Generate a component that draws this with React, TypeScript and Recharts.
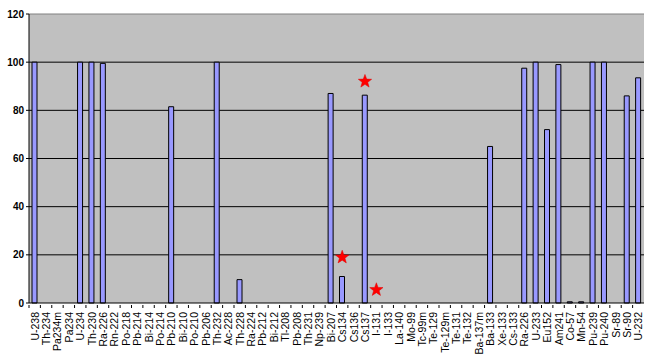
import React from 'react';
import { ComposedChart, Bar, Scatter, XAxis, YAxis, CartesianGrid, ReferenceLine } from 'recharts';

const categories = ['U-238','Th-234','Pa234m','Pa234','U-234','Th-230','Ra-226','Rn-222','Po-218','Pb-214','Bi-214','Po-214','Pb-210','Bi-210','Po-210','Pb-206','Th-232','Ac-228','Th-228','Ra-224','Pb-212','Bi-212','Tl-208','Pb-208','Th-231','Np-239','Bi-207','Cs134','Cs136','Cs137','I-131','I-133','La-140','Mo-99','Tc-99m','Te-129','Te-129m','Te-131','Te-132','Ba-137m','Ba-133','Xe-133','Cs-133','Ra-226','U-233','Eu152','Am241','Co-57','Mn-54','Pu-239','Pu-240','Sr-89','Sr-90','U-232'];
const values = [100,0,0,0,100,100,99.5,0,0,0,0,0,81.5,0,0,0,100,0,9.7,0,0,0,0,0,0,0,87,11,0,86.3,0,0,0,0,0,0,0,0,0,0,65,0,0,97.5,100,72,99,0.5,0.5,100,100,0,86,93.5];
const starCategories = ['Cs134','Cs137','I-131'];
const starValues = [19,92,5.5];
const yTicks = [0,20,40,60,80,100,120];
const gridValues = [20,40,60,80,100];

const data = categories.map((c, i) => {
  const si = starCategories.indexOf(c);
  return { name: c, value: values[i], star: si >= 0 ? starValues[si] : null };
});

const FONT = '"Liberation Sans", Arial, sans-serif';

const XTick = (props: any) => {
  const { x, y, payload } = props;
  const half = 615 / categories.length / 2;
  return (
    <g>
      <line x1={x - half} x2={x - half} y1={y - 6} y2={y - 3} stroke="#000" />
      <text x={x + 4} y={y + 1} transform={`rotate(-90, ${x + 4}, ${y + 1})`} textAnchor="end" fontSize={10.5} fontFamily={FONT} fill="#000">
        {payload.value}
      </text>
    </g>
  );
};

const Star = (props: any) => {
  const { cx, cy, payload } = props;
  if (payload == null || payload.star == null || cx == null || cy == null) return null;
  const R = 7, r = 2.9;
  const pts: string[] = [];
  for (let k = 0; k < 10; k++) {
    const rad = k % 2 === 0 ? R : r;
    const a = -Math.PI / 2 + (k * Math.PI) / 5;
    pts.push(`${cx + rad * Math.cos(a)},${cy + rad * Math.sin(a)}`);
  }
  return <polygon points={pts.join(' ')} fill="#FF0000" stroke="#E00000" strokeWidth={0.5} />;
};

export default function App() {
  return (
    <div style={{ position: 'absolute', left: 0, top: 0 }}>
      <ComposedChart width={649} height={359} data={data} margin={{ top: 14, right: 5, left: 0, bottom: 0 }}>
        <CartesianGrid fill="#C0C0C0" vertical={false} horizontalValues={gridValues} stroke="#000" strokeOpacity={1} />
        <XAxis dataKey="name" interval={0} height={56} tick={<XTick />} tickLine={false} axisLine={{ stroke: '#000' }} />
        <YAxis domain={[0, 120]} ticks={yTicks} width={29} tickSize={3} tickLine={{ stroke: '#000' }} axisLine={{ stroke: '#000' }}
          tick={{ fontSize: 10, fontWeight: 'bold', fontFamily: FONT, fill: '#000' }} />
        <YAxis yAxisId="r" orientation="right" domain={[0, 120]} width={0} tick={false} tickLine={false} axisLine={{ stroke: '#808080' }} />
        <ReferenceLine y={120} stroke="#808080" />
        <Bar dataKey="value" fill="#9999FF" stroke="#000" strokeWidth={1} barSize={5} isAnimationActive={false} />
        <Scatter dataKey="star" shape={<Star />} isAnimationActive={false} />
      </ComposedChart>
    </div>
  );
}
